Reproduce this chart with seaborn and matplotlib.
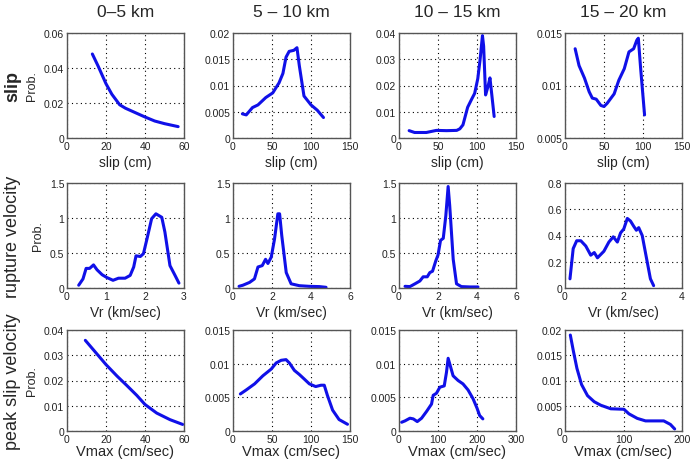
import pandas as pd
import matplotlib
matplotlib.use("Agg")
import matplotlib.pyplot as plt
import seaborn as sns

# column headers / row labels
COL_TITLES = ["0\u20135 km", "5 \u2013 10 km", "10 \u2013 15 km", "15 \u2013 20 km"]
ROW_TITLES = ["slip", "rupture velocity", "peak slip velocity"]
ROW_XLABELS = ["slip (cm)", "Vr (km/sec)", "Vmax (cm/sec)"]

# --- slip ---
slip_0_5_x = [13, 16, 20, 23, 27, 30, 35, 40, 45, 50, 57]
slip_0_5_y = [0.048, 0.041, 0.031, 0.025, 0.019, 0.017, 0.0145, 0.012, 0.0097, 0.0082, 0.0065]

slip_5_10_x = [12, 17, 25, 32, 42, 51, 59, 64, 68, 72, 78, 82, 85, 91, 100, 108, 116]
slip_5_10_y = [0.0046, 0.0044, 0.0058, 0.0063, 0.0077, 0.0086, 0.0105, 0.0123, 0.0154,
               0.0165, 0.0167, 0.0172, 0.0138, 0.0080, 0.0063, 0.0053, 0.0039]

slip_10_15_x = [13, 20, 35, 48, 61, 74, 78, 82, 88, 93, 97, 101, 104, 107, 108.5,
                111, 114, 116.6, 119, 122]
slip_10_15_y = [0.0028, 0.0021, 0.0021, 0.0029, 0.0028, 0.0029, 0.0035, 0.005, 0.0117,
                0.0147, 0.017, 0.0226, 0.030, 0.039, 0.035, 0.0164, 0.0195, 0.0229,
                0.0164, 0.0082]

slip_15_20_x = [13, 18, 25, 31, 35, 40, 46, 50, 54, 63, 69, 76, 82, 88, 92, 94, 97, 102]
slip_15_20_y = [0.0135, 0.0119, 0.0107, 0.0094, 0.0088, 0.0087, 0.0081, 0.0080, 0.0083,
                0.0092, 0.0105, 0.0116, 0.0132, 0.0135, 0.0143, 0.0145, 0.0116, 0.0072]

# --- rupture velocity ---
vr_0_5_x = [0.30, 0.41, 0.49, 0.58, 0.68, 0.77, 0.90, 1.02, 1.18, 1.32, 1.49, 1.62,
            1.71, 1.77, 1.88, 1.96, 2.05, 2.17, 2.28, 2.43, 2.51, 2.64, 2.77, 2.87]
vr_0_5_y = [0.04, 0.13, 0.28, 0.28, 0.33, 0.26, 0.19, 0.15, 0.11, 0.14, 0.14, 0.18,
            0.30, 0.46, 0.45, 0.49, 0.70, 0.99, 1.06, 1.01, 0.80, 0.32, 0.18, 0.07]

vr_5_10_x = [0.31, 0.51, 0.85, 1.10, 1.28, 1.50, 1.67, 1.79, 1.96, 2.13, 2.30, 2.39,
             2.50, 2.73, 2.98, 3.40, 3.90, 4.43, 4.77]
vr_5_10_y = [0.024, 0.04, 0.08, 0.13, 0.30, 0.32, 0.41, 0.35, 0.44, 0.70, 1.06, 1.06,
             0.75, 0.22, 0.06, 0.033, 0.024, 0.02, 0.01]

vr_10_15_x = [0.31, 0.56, 0.82, 1.07, 1.24, 1.45, 1.58, 1.72, 1.89, 2.00, 2.13, 2.27,
              2.40, 2.52, 2.60, 2.78, 2.95, 3.20, 3.63, 4.05]
vr_10_15_y = [0.024, 0.02, 0.06, 0.10, 0.16, 0.16, 0.22, 0.24, 0.39, 0.47, 0.68, 0.71,
              1.03, 1.45, 1.18, 0.41, 0.06, 0.02, 0.015, 0.015]

vr_15_20_x = [0.17, 0.28, 0.40, 0.54, 0.71, 0.88, 1.00, 1.11, 1.33, 1.50, 1.65, 1.79,
              1.90, 2.01, 2.07, 2.13, 2.24, 2.35, 2.44, 2.52, 2.64, 2.75, 2.92, 3.03]
vr_15_20_y = [0.07, 0.30, 0.36, 0.36, 0.32, 0.25, 0.27, 0.23, 0.28, 0.35, 0.39, 0.35,
              0.42, 0.45, 0.49, 0.53, 0.51, 0.47, 0.44, 0.46, 0.40, 0.27, 0.07, 0.018]

# --- peak slip velocity ---
vmax_0_5_x = [9.4, 13.6, 20, 25.6, 30.7, 35.8, 40, 46, 52.8, 59.3]
vmax_0_5_y = [0.0359, 0.0321, 0.0263, 0.0218, 0.018, 0.0141, 0.0105, 0.0071, 0.0045, 0.0026]

vmax_5_10_x = [9.4, 17, 27.7, 38.3, 49, 55.3, 61.7, 68, 72.3, 78.7, 85, 91.5, 97.9,
               106, 112.8, 117, 121, 127.7, 136, 146.8]
vmax_5_10_y = [0.0055, 0.0061, 0.0070, 0.0082, 0.0092, 0.0101, 0.0105, 0.0106, 0.0101,
               0.0090, 0.0084, 0.0077, 0.0070, 0.0066, 0.0068, 0.0068, 0.0053, 0.0031,
               0.0017, 0.0010]

vmax_10_15_x = [6.8, 15.3, 28, 36.6, 46.8, 57.9, 70.6, 83.4, 87.7, 96, 104.7, 116,
                121.7, 126, 131.9, 138.7, 151.5, 164, 177, 189.8, 200, 206.8, 215]
vmax_10_15_y = [0.0013, 0.0015, 0.0019, 0.0018, 0.0014, 0.0019, 0.0029, 0.0040, 0.0053,
                0.0056, 0.0065, 0.0067, 0.0087, 0.0108, 0.0096, 0.0082, 0.0075, 0.0070,
                0.0061, 0.0048, 0.0034, 0.0023, 0.0018]

vmax_15_20_x = [9.1, 14.2, 20.4, 28.3, 38.5, 49.9, 61.2, 78.2, 100.8, 109.3, 123.5,
                137.7, 151.8, 168.8, 180.2, 187.5]
vmax_15_20_y = [0.0190, 0.0159, 0.0124, 0.0092, 0.0070, 0.0058, 0.0051, 0.0044, 0.0043,
                0.0034, 0.0025, 0.0020, 0.0020, 0.0020, 0.0013, 0.0004]

# axis limits and ticks per panel (row, col)
XLIMS = [[(0, 60), (0, 150), (0, 150), (0, 150)],
         [(0, 3), (0, 6), (0, 6), (0, 4)],
         [(0, 60), (0, 150), (0, 300), (0, 200)]]
XTICKS = [[[0, 20, 40, 60], [0, 50, 100, 150], [0, 50, 100, 150], [0, 50, 100, 150]],
          [[0, 1, 2, 3], [0, 2, 4, 6], [0, 2, 4, 6], [0, 2, 4]],
          [[0, 20, 40, 60], [0, 50, 100, 150], [0, 100, 200, 300], [0, 100, 200]]]
YTICKS = [[[0, 0.02, 0.04, 0.06], [0, 0.005, 0.01, 0.015, 0.02], [0, 0.01, 0.02, 0.03, 0.04],
           [0.005, 0.01, 0.015]],
          [[0, 0.5, 1, 1.5], [0, 0.5, 1, 1.5], [0, 0.5, 1, 1.5], [0, 0.2, 0.4, 0.6, 0.8]],
          [[0, 0.01, 0.02, 0.03, 0.04], [0, 0.005, 0.01, 0.015], [0, 0.005, 0.01, 0.015],
           [0, 0.005, 0.01, 0.015, 0.02]]]
YTICKLABELS = [[["0", "0.02", "0.04", "0.06"], ["0", "0.005", "0.01", "0.015", "0.02"],
                ["0", "0.01", "0.02", "0.03", "0.04"], ["0.005", "0.01", "0.015"]],
               [["0", "0.5", "1", "1.5"], ["0", "0.5", "1", "1.5"], ["0", "0.5", "1", "1.5"],
                ["0", "0.2", "0.4", "0.6", "0.8"]],
               [["0", "0.01", "0.02", "0.03", "0.04"], ["0", "0.005", "0.01", "0.015"],
                ["0", "0.005", "0.01", "0.015"], ["0", "0.005", "0.01", "0.015", "0.02"]]]

SERIES = [[(slip_0_5_x, slip_0_5_y), (slip_5_10_x, slip_5_10_y),
           (slip_10_15_x, slip_10_15_y), (slip_15_20_x, slip_15_20_y)],
          [(vr_0_5_x, vr_0_5_y), (vr_5_10_x, vr_5_10_y),
           (vr_10_15_x, vr_10_15_y), (vr_15_20_x, vr_15_20_y)],
          [(vmax_0_5_x, vmax_0_5_y), (vmax_5_10_x, vmax_5_10_y),
           (vmax_10_15_x, vmax_10_15_y), (vmax_15_20_x, vmax_15_20_y)]]

sns.set_theme(style="white")
plt.rcParams["font.family"] = ["Liberation Sans", "DejaVu Sans"]

W, H = 691, 464
fig = plt.figure(figsize=(W / 100, H / 100), dpi=100)

col_left = [67, 233, 399, 565]
row_top = [34, 184, 331]
row_h = [105, 105, 101]
ax_w = 117

for r in range(3):
    for c in range(4):
        ax = fig.add_axes([col_left[c] / W, 1 - (row_top[r] + row_h[r]) / H,
                           ax_w / W, row_h[r] / H])
        xs, ys = SERIES[r][c]
        df = pd.DataFrame({"x": xs, "y": ys})
        sns.lineplot(data=df, x="x", y="y", ax=ax, color="#1010e8", linewidth=2.2,
                     sort=False, estimator=None)
        ax.set_xlim(*XLIMS[r][c])
        ax.set_ylim(YTICKS[r][c][0], YTICKS[r][c][-1])
        ax.set_xticks(XTICKS[r][c])
        ax.set_xticklabels([f"{t:g}" for t in XTICKS[r][c]])
        ax.set_yticks(YTICKS[r][c])
        ax.set_yticklabels(YTICKLABELS[r][c])
        ax.grid(True, color="black", linestyle=(0, (1, 3)), linewidth=0.8)
        ax.tick_params(direction="in", length=3, labelsize=7.5, colors="#222222", pad=2)
        for s in ax.spines.values():
            s.set_color("#555555")
            s.set_linewidth(1.0)
        if r == 2:
            ax.set_xlabel(ROW_XLABELS[r], fontsize=10.5, labelpad=0)
        else:
            ax.set_xlabel(ROW_XLABELS[r], fontsize=10, labelpad=3)
        if c == 0:
            ax.set_ylabel("Prob.", fontsize=9, labelpad=4)
        else:
            ax.set_ylabel("")
        if r == 0:
            ax.set_title(COL_TITLES[c], fontsize=12.5, pad=12)

for r in range(3):
    yc = 1 - (row_top[r] + row_h[r] / 2) / H
    fig.text(13 / W, yc, ROW_TITLES[r], rotation=90, fontsize=13,
             ha="center", va="center", fontweight="bold" if r == 0 else "normal")

fig.savefig("out.png", dpi=100)
plt.close(fig)
